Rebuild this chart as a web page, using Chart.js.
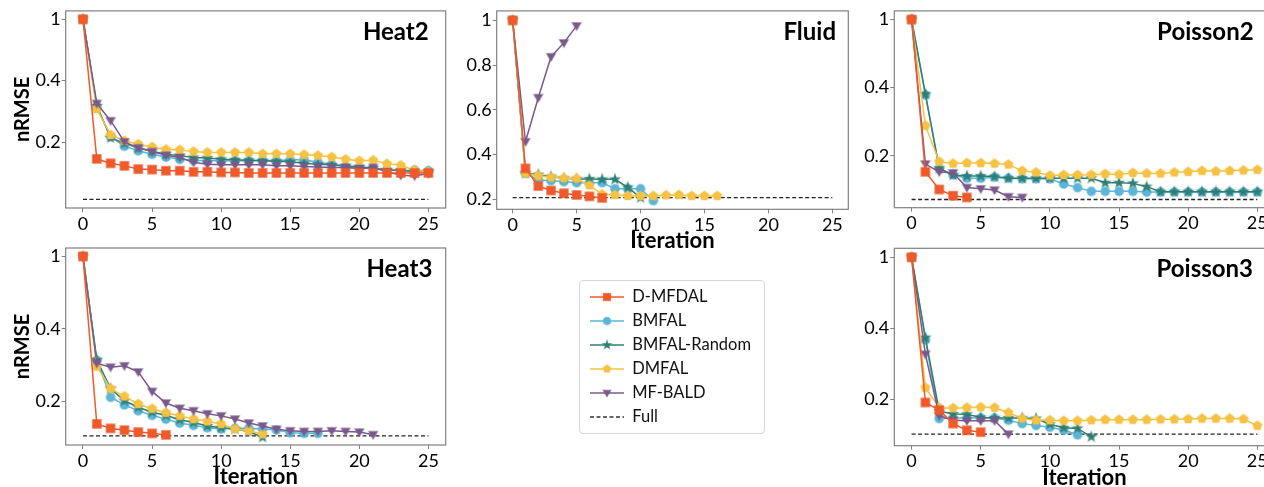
<!DOCTYPE html>
<html lang="en">
<head>
<meta charset="utf-8" />
<title>nRMSE vs Iteration</title>
<script src="https://cdn.jsdelivr.net/npm/chart.js@4.4.1/dist/chart.umd.min.js"></script>
<style>
  html, body { margin: 0; padding: 0; background: #fff; width: 1264px; height: 487px; overflow: hidden; }
  .panel { position: absolute; }
  .legend-box { position: absolute; left: 579px; top: 280px; width: 186px; height: 154px;
    border: 1px solid #d8d8d8; border-radius: 4px; box-sizing: border-box; }
</style>
</head>
<body>
  <div class="legend-box"></div>
  <div class="panel" style="left:0px;top:0px"><canvas id="heat2"></canvas></div>
  <div class="panel" style="left:455px;top:0px"><canvas id="fluid"></canvas></div>
  <div class="panel" style="left:860px;top:0px"><canvas id="poisson2"></canvas></div>
  <div class="panel" style="left:0px;top:232px"><canvas id="heat3"></canvas></div>
  <div class="panel" style="left:860px;top:232px"><canvas id="poisson3"></canvas></div>
  <div class="panel" style="left:579px;top:280px"><canvas id="legend"></canvas></div>

<script>
// ---- data ----
const seriesNames = ['D-MFDAL', 'BMFAL', 'BMFAL-Random', 'DMFAL', 'MF-BALD'];
const seriesColors = ['#f0592a', '#5cb6d8', '#2e7f74', '#f5c243', '#7a5a8c'];
const seriesMarkers = ['square', 'circle', 'star', 'pentagon', 'triDown'];
// drawing order (lower = drawn on top)
const seriesOrder = [0, 4, 3, 2, 1];

const iterTicks = [0, 5, 10, 15, 20, 25];
const logTickValues = [1, 0.4467, 0.1995];
const logTickLabels = ['1', '0.4', '0.2'];
const fluidTickValues = [0.2, 0.4, 0.6, 0.8, 1];
const fluidTickLabels = ['0.2', '0.4', '0.6', '0.8', '1'];

const heat2DMFDAL = [1, 0.160, 0.151, 0.146, 0.140, 0.139, 0.137, 0.137, 0.135, 0.135, 0.134, 0.134, 0.133, 0.133, 0.133, 0.133, 0.133, 0.133, 0.133, 0.133, 0.133, 0.133, 0.133, 0.133, 0.133, 0.133];
const heat2BMFAL = [1, 0.320, 0.214, 0.189, 0.178, 0.170, 0.164, 0.159, 0.157, 0.156, 0.156, 0.156, 0.156, 0.157, 0.156, 0.158, 0.158, 0.153, 0.149, 0.144, 0.142, 0.141, 0.139, 0.137, 0.138, 0.137];
const heat2Random = [1, 0.320, 0.211, 0.196, 0.185, 0.177, 0.170, 0.167, 0.163, 0.162, 0.159, 0.158, 0.157, 0.156, 0.155, 0.154, 0.151, 0.149, 0.148, 0.146, 0.144, 0.142, 0.138, 0.138, 0.135, 0.135];
const heat2DMFAL = [1, 0.308, 0.219, 0.203, 0.194, 0.187, 0.181, 0.180, 0.176, 0.174, 0.174, 0.174, 0.174, 0.171, 0.171, 0.171, 0.169, 0.167, 0.164, 0.159, 0.156, 0.157, 0.150, 0.147, 0.138, 0.135];
const heat2MFBALD = [1, 0.331, 0.264, 0.200, 0.185, 0.176, 0.168, 0.163, 0.153, 0.149, 0.148, 0.148, 0.148, 0.148, 0.146, 0.146, 0.145, 0.144, 0.143, 0.143, 0.141, 0.143, 0.135, 0.129, 0.128, 0.132];
const heat2Full = 0.094;

const fluidDMFDAL = [1, 0.338, 0.259, 0.239, 0.227, 0.219, 0.213, 0.206];
const fluidBMFAL = [1, 0.316, 0.286, 0.283, 0.279, 0.274, 0.274, 0.274, 0.247, 0.247, 0.247, 0.194];
const fluidRandom = [1, 0.316, 0.310, 0.301, 0.294, 0.291, 0.291, 0.289, 0.289, 0.253, 0.207];
const fluidDMFAL = [1, 0.316, 0.305, 0.298, 0.294, 0.292, 0.262, 0.222, 0.219, 0.215, 0.215, 0.215, 0.218, 0.219, 0.215, 0.215, 0.215];
const fluidMFBALD = [1, 0.457, 0.654, 0.837, 0.899, 0.975];
const fluidFull = 0.207;

const poisson2DMFDAL = [1, 0.165, 0.134, 0.1245, 0.122];
const poisson2BMFAL = [1, 0.410, 0.172, 0.159, 0.153, 0.153, 0.155, 0.153, 0.152, 0.152, 0.152, 0.143, 0.137, 0.131, 0.131, 0.131, 0.131, 0.130, 0.130, 0.130, 0.130, 0.130, 0.130, 0.130, 0.130, 0.130];
const poisson2Random = [1, 0.414, 0.172, 0.159, 0.157, 0.157, 0.156, 0.153, 0.153, 0.153, 0.153, 0.153, 0.153, 0.153, 0.145, 0.145, 0.144, 0.1385, 0.1305, 0.1305, 0.1305, 0.1305, 0.1305, 0.1305, 0.1305, 0.1305];
const poisson2DMFAL = [1, 0.285, 0.186, 0.182, 0.183, 0.183, 0.182, 0.180, 0.167, 0.164, 0.158, 0.159, 0.159, 0.1595, 0.161, 0.160, 0.163, 0.162, 0.162, 0.164, 0.165, 0.167, 0.166, 0.167, 0.168, 0.169];
const poisson2MFBALD = [1, 0.181, 0.165, 0.163, 0.137, 0.135, 0.133, 0.123, 0.122];
const poisson2Full = 0.119;

const heat3DMFDAL = [1, 0.1555, 0.148, 0.145, 0.142, 0.140, 0.1376];
const heat3BMFAL = [1, 0.315, 0.209, 0.192, 0.180, 0.171, 0.164, 0.157, 0.153, 0.149, 0.147, 0.148, 0.148, 0.147, 0.1455, 0.141, 0.140, 0.140];
const heat3Random = [1, 0.317, 0.230, 0.201, 0.187, 0.177, 0.171, 0.163, 0.158, 0.152, 0.149, 0.147, 0.143, 0.134];
const heat3DMFAL = [1, 0.294, 0.230, 0.211, 0.194, 0.184, 0.176, 0.170, 0.164, 0.160, 0.1555, 0.147, 0.144, 0.1386];
const heat3MFBALD = [1, 0.305, 0.292, 0.2965, 0.277, 0.223, 0.196, 0.185, 0.180, 0.174, 0.170, 0.164, 0.157, 0.152, 0.1466, 0.144, 0.143, 0.143, 0.144, 0.143, 0.142, 0.138];
const heat3Full = 0.136;

const poisson3DMFDAL = [1, 0.192, 0.176, 0.151, 0.140, 0.137];
const poisson3BMFAL = [1, 0.391, 0.160, 0.161, 0.161, 0.161, 0.161, 0.157, 0.151, 0.148, 0.145, 0.1405, 0.133];
const poisson3Random = [1, 0.401, 0.174, 0.1685, 0.168, 0.162, 0.161, 0.161, 0.161, 0.160, 0.150, 0.144, 0.143, 0.130];
const poisson3DMFAL = [1, 0.227, 0.181, 0.180, 0.181, 0.182, 0.181, 0.171, 0.160, 0.157, 0.157, 0.156, 0.156, 0.157, 0.158, 0.158, 0.158, 0.158, 0.1585, 0.1585, 0.159, 0.160, 0.160, 0.160, 0.159, 0.1475];
const poisson3MFBALD = [1, 0.332, 0.165, 0.157, 0.156, 0.156, 0.156, 0.134];
const poisson3Full = 0.134;

// ---- marker images ----
function hexA(hex, a) {
  const n = parseInt(hex.slice(1), 16);
  return 'rgba(' + (n >> 16) + ',' + ((n >> 8) & 255) + ',' + (n & 255) + ',' + a + ')';
}
function makeMarker(shape, color, lineLen, scale) {
  const s = scale || 1;
  const w = lineLen || 16, h = 16;
  const c = document.createElement('canvas');
  c.width = w; c.height = h;
  const g = c.getContext('2d');
  const cx = w / 2, cy = h / 2;
  if (lineLen) {
    g.strokeStyle = color; g.lineWidth = 1.5;
    g.beginPath(); g.moveTo(0, cy); g.lineTo(w, cy); g.stroke();
  }
  g.beginPath();
  if (shape === 'square') {
    g.rect(cx - 4.4 * s, cy - 4.4 * s, 8.8 * s, 8.8 * s);
  } else if (shape === 'circle') {
    g.arc(cx, cy, 4.5 * s, 0, Math.PI * 2);
  } else if (shape === 'star') {
    for (let k = 0; k < 10; k++) {
      const r = (k % 2 ? 2.3 : 5.4) * s;
      const a = -Math.PI / 2 + k * Math.PI / 5;
      k ? g.lineTo(cx + r * Math.cos(a), cy + r * Math.sin(a)) : g.moveTo(cx + r * Math.cos(a), cy + r * Math.sin(a));
    }
    g.closePath();
  } else if (shape === 'pentagon') {
    for (let k = 0; k < 5; k++) {
      const a = -Math.PI / 2 + k * 2 * Math.PI / 5;
      const r = 4.9 * s;
      k ? g.lineTo(cx + r * Math.cos(a), cy + r * Math.sin(a)) : g.moveTo(cx + r * Math.cos(a), cy + r * Math.sin(a));
    }
    g.closePath();
  } else if (shape === 'triDown') {
    g.moveTo(cx - 4.6 * s, cy - 3.3 * s);
    g.lineTo(cx + 4.6 * s, cy - 3.3 * s);
    g.lineTo(cx, cy + 4.6 * s);
    g.closePath();
  }
  g.fillStyle = color;
  g.fill();
  g.strokeStyle = hexA(color, 0.45);
  g.lineWidth = 1.2;
  g.stroke();
  return c;
}
function makeDash(lineLen) {
  const c = document.createElement('canvas');
  c.width = lineLen; c.height = 16;
  const g = c.getContext('2d');
  g.strokeStyle = '#333'; g.lineWidth = 1.3; g.setLineDash([4, 2.5]);
  g.beginPath(); g.moveTo(0, 8); g.lineTo(lineLen, 8); g.stroke();
  return c;
}
const pointImages = seriesMarkers.map((m, i) => makeMarker(m, seriesColors[i]));

// ---- plugins ----
const framePlugin = {
  id: 'frame',
  afterDatasetsDraw(chart) {
    const { ctx, chartArea: a } = chart;
    ctx.save();
    ctx.strokeStyle = '#808080';
    ctx.lineWidth = 1.2;
    ctx.strokeRect(a.left, a.top, a.right - a.left, a.bottom - a.top);
    ctx.restore();
  }
};
const panelTitlePlugin = {
  id: 'panelTitle',
  afterDatasetsDraw(chart, args, opts) {
    if (!opts.text) return;
    const { ctx, chartArea: a } = chart;
    ctx.save();
    ctx.font = 'bold 24px Lato';
    ctx.fillStyle = '#000';
    ctx.textAlign = 'right';
    ctx.textBaseline = 'alphabetic';
    ctx.fillText(opts.text, a.right - opts.right, a.top + opts.baseline);
    ctx.restore();
  }
};

const toPoints = arr => arr.map((v, i) => ({ x: i, y: v }));

function drawPanel(id, series, full, opt) {
  const canvas = document.getElementById(id);
  canvas.width = opt.div.w; canvas.height = opt.div.h;
  canvas.style.width = opt.div.w + 'px'; canvas.style.height = opt.div.h + 'px';

  const datasets = series.map((vals, i) => ({
    label: seriesNames[i],
    data: toPoints(vals),
    order: seriesOrder[i],
    borderColor: seriesColors[i],
    backgroundColor: seriesColors[i],
    borderWidth: 1.5,
    pointStyle: pointImages[i],
    pointRadius: 4,
    tension: 0
  }));
  datasets.push({
    label: 'Full',
    data: [{ x: iterTicks[0], y: full }, { x: iterTicks[iterTicks.length - 1], y: full }],
    order: 5,
    borderColor: '#222',
    borderWidth: 1.3,
    borderDash: [4, 2.5],
    pointRadius: 0
  });

  const tickFont = { family: 'Lato', size: 18, lineHeight: 1.1 };
  const yTicks = opt.log ? logTickValues : fluidTickValues;
  const yLabels = opt.log ? logTickLabels : fluidTickLabels;

  return new Chart(canvas, {
    type: 'line',
    data: { datasets },
    options: {
      responsive: false,
      animation: false,
      events: [],
      layout: { padding: { left: 0, top: opt.plot.top - opt.div.top, right: opt.div.left + opt.div.w - opt.plot.right, bottom: 0 } },
      scales: {
        x: {
          type: 'linear', bounds: 'data', min: -1.25, max: 26.25,
          afterBuildTicks: s => { s.ticks = iterTicks.map(v => ({ value: v })); },
          afterFit: s => { s.height = opt.div.top + opt.div.h - opt.plot.bottom; },
          ticks: { font: tickFont, color: '#000', padding: 2, maxRotation: 0, autoSkip: false, callback: v => String(v) },
          grid: { display: true, drawOnChartArea: false, drawTicks: true, tickLength: 4, color: '#808080' },
          border: { display: false },
          title: { display: opt.xTitle, text: 'Iteration', color: '#000',
            font: { family: 'Lato', size: 22, weight: 'bold', lineHeight: 1.2 },
            padding: { top: 0, bottom: opt.div.top + opt.div.h - 13.2 - (opt.plot.bottom + 32) } }
        },
        y: {
          type: opt.log ? 'logarithmic' : 'linear', bounds: 'data',
          min: opt.yRange[0], max: opt.yRange[1],
          afterBuildTicks: s => { s.ticks = yTicks.map(v => ({ value: v })); },
          afterFit: s => { s.width = opt.plot.left - opt.div.left; },
          ticks: { font: tickFont, color: '#000', padding: 1, autoSkip: false, callback: (v, i) => yLabels[i] },
          grid: { display: true, drawOnChartArea: false, drawTicks: true, tickLength: 4, color: '#808080' },
          border: { display: false },
          title: { display: opt.yTitle, text: 'nRMSE', color: '#000',
            font: { family: 'Lato', size: 20, weight: 'bold', lineHeight: 1.2 },
            padding: { top: 10.5, bottom: 0 } }
        }
      },
      plugins: {
        legend: { display: false },
        tooltip: { enabled: false },
        panelTitle: { text: opt.title, right: opt.titleRight, baseline: opt.titleBase }
      }
    },
    plugins: [framePlugin, panelTitlePlugin]
  });
}

drawPanel('heat2', [heat2DMFDAL, heat2BMFAL, heat2Random, heat2DMFAL, heat2MFBALD], heat2Full, {
  title: 'Heat2', log: true, yRange: [0.084, 1.115], yTitle: true, xTitle: false,
  div: { left: 0, top: 0, w: 455, h: 240 }, plot: { left: 65.7, top: 10.7, right: 445.7, bottom: 208 },
  titleRight: 17, titleBase: 28.6
});
drawPanel('fluid', [fluidDMFDAL, fluidBMFAL, fluidRandom, fluidDMFAL, fluidMFBALD], fluidFull, {
  title: 'Fluid', log: false, yRange: [0.155, 1.042], yTitle: false, xTitle: true,
  div: { left: 455, top: 0, w: 405, h: 260 }, plot: { left: 496.7, top: 10.7, right: 848.3, bottom: 209.3 },
  titleRight: 12.3, titleBase: 28.6
});
drawPanel('poisson2', [poisson2DMFDAL, poisson2BMFAL, poisson2Random, poisson2DMFAL, poisson2MFBALD], poisson2Full, {
  title: 'Poisson2', log: true, yRange: [0.108, 1.107], yTitle: false, xTitle: false,
  div: { left: 860, top: 0, w: 430, h: 240 }, plot: { left: 894.3, top: 10.7, right: 1274.6, bottom: 207.7 },
  titleRight: 21, titleBase: 28.6
});
drawPanel('heat3', [heat3DMFDAL, heat3BMFAL, heat3Random, heat3DMFAL, heat3MFBALD], heat3Full, {
  title: 'Heat3', log: true, yRange: [0.123, 1.097], yTitle: true, xTitle: true,
  div: { left: 0, top: 232, w: 455, h: 262 }, plot: { left: 65.7, top: 248, right: 445.7, bottom: 445 },
  titleRight: 13.4, titleBase: 29
});
drawPanel('poisson3', [poisson3DMFDAL, poisson3BMFAL, poisson3Random, poisson3DMFAL, poisson3MFBALD], poisson3Full, {
  title: 'Poisson3', log: true, yRange: [0.1175, 1.107], yTitle: false, xTitle: true,
  div: { left: 860, top: 232, w: 430, h: 262 }, plot: { left: 894.3, top: 248.3, right: 1274.6, bottom: 445.7 },
  titleRight: 21.6, titleBase: 28.4
});

// ---- legend (its own chart, legend only) ----
(function () {
  const canvas = document.getElementById('legend');
  canvas.width = 400; canvas.height = 170;
  canvas.style.width = '400px'; canvas.style.height = '170px';
  const lineLen = 34;
  const datasets = seriesNames.map((name, i) => ({
    label: name, data: [], borderColor: seriesColors[i],
    pointStyle: makeMarker(seriesMarkers[i], seriesColors[i], lineLen, 0.85)
  }));
  datasets.push({ label: 'Full', data: [], borderColor: '#333', pointStyle: makeDash(lineLen) });
  new Chart(canvas, {
    type: 'line',
    data: { datasets },
    options: {
      responsive: false, animation: false, events: [],
      layout: { padding: { left: 3.5, top: 1.2, right: 0, bottom: 0 } },
      scales: { x: { display: false }, y: { display: false } },
      plugins: {
        tooltip: { enabled: false },
        legend: {
          position: 'left', align: 'start',
          labels: { usePointStyle: true, pointStyleWidth: lineLen, padding: 7.5, color: '#111',
            font: { family: 'Lato', size: 16.5, lineHeight: 1.2 } }
        }
      }
    }
  });
})();
</script>
</body>
</html>
